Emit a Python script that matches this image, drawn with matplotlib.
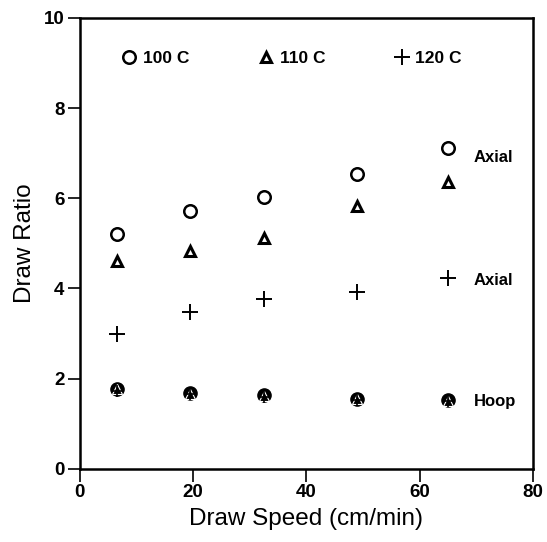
import numpy as np
import matplotlib
matplotlib.use("Agg")
import matplotlib.pyplot as plt

plt.rcParams['font.family'] = ['Liberation Sans', 'DejaVu Sans']

speed = [6.5, 19.5, 32.5, 49, 65]
axial_100 = [5.2, 5.72, 6.02, 6.53, 7.12]
axial_110 = [4.6, 4.82, 5.12, 5.83, 6.35]
axial_120 = [3.0, 3.47, 3.77, 3.93, 4.23]
hoop_100 = [1.78, 1.69, 1.64, 1.55, 1.52]
hoop_110 = [1.76, 1.67, 1.62, 1.54, 1.51]
hoop_120 = [1.73, 1.65, 1.60, 1.53, 1.50]
labels = ['100 C', '110 C', '120 C']

fig = plt.figure(figsize=(5.47, 5.42), dpi=100)
ax = fig.add_axes([0.146, 0.135, 0.828, 0.832])

circ = dict(marker='o', ms=9, mfc='none', mec='black', mew=1.8, ls='none')
tri = dict(marker='^', ms=7.5, mfc='none', mec='black', mew=2.2, ls='none')
plus = dict(marker='+', ms=12, mec='black', mew=1.4, ls='none')

h1, = ax.plot(speed, axial_100, **circ)
h2, = ax.plot(speed, axial_110, **tri)
h3, = ax.plot(speed, axial_120, **plus)
ax.plot(speed, hoop_100, marker='o', ms=9.5, mfc='black', mec='black', ls='none')
ax.plot(speed, hoop_110, marker='^', ms=7, mfc='none', mec='white', mew=0.8, ls='none')
ax.plot(speed, hoop_120, marker='+', ms=8, mec='black', mew=1.2, ls='none')

ax.text(69.6, 6.9, 'Axial', fontsize=12, fontweight='bold', va='center')
ax.text(69.6, 4.17, 'Axial', fontsize=12, fontweight='bold', va='center')
ax.text(69.6, 1.49, 'Hoop', fontsize=12, fontweight='bold', va='center')

leg = ax.legend([h1, h2, h3], labels, ncol=3, loc='upper left',
                bbox_to_anchor=(0.055, 0.961), frameon=False,
                handletextpad=0.3, columnspacing=3.9, handlelength=1.0,
                prop={'size': 12.5, 'weight': 'bold'})

ax.set_xlim(0, 80)
ax.set_ylim(0, 10)
ax.set_xticks([0, 20, 40, 60, 80])
ax.set_yticks([0, 2, 4, 6, 8, 10])
ax.tick_params(direction='out', length=9, width=1.2, labelsize=13.5, pad=2)
for lab in ax.get_xticklabels() + ax.get_yticklabels():
    lab.set_fontweight('bold')
for sp in ax.spines.values():
    sp.set_linewidth(1.8)

ax.set_xlabel('Draw Speed (cm/min)', fontsize=17.5, labelpad=5)
ax.set_ylabel('Draw Ratio', fontsize=17.5, labelpad=6)

fig.savefig('out.png', dpi=100)
